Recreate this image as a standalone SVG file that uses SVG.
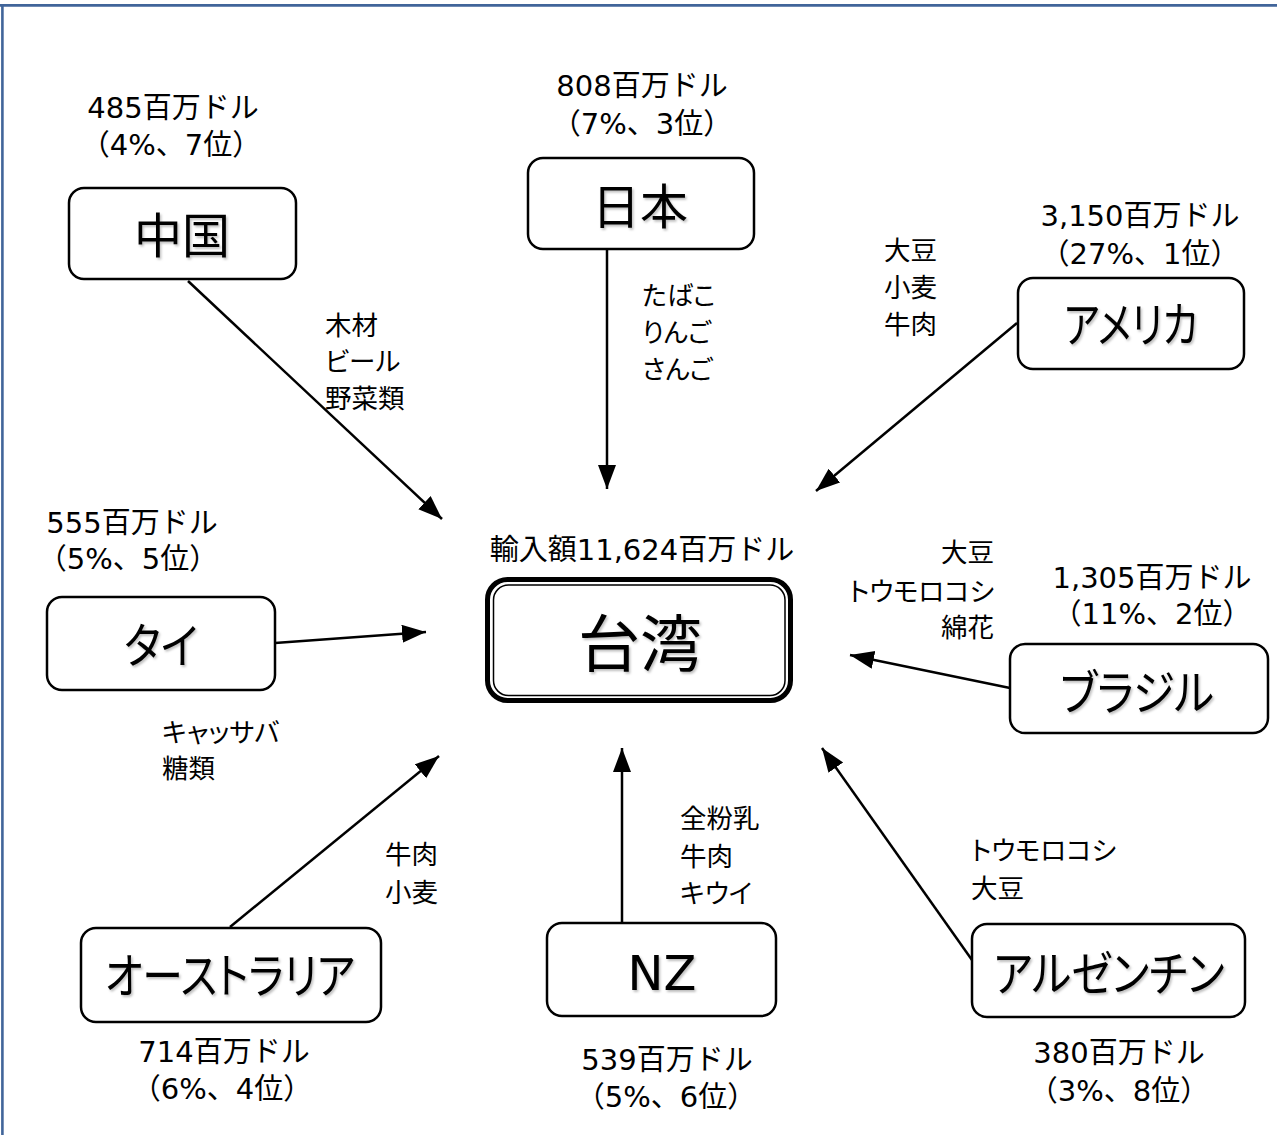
<svg xmlns="http://www.w3.org/2000/svg" width="1277" height="1135" viewBox="0 0 1277 1135">
<style>
.box{fill:#fff;stroke:#000;stroke-width:2.5}
.name{font-family:"Noto Sans CJK JP","DejaVu Sans",sans-serif;font-size:48px;fill:#000;text-anchor:middle;font-feature-settings:"palt";filter:url(#sh)}
.nz{font-family:"DejaVu Sans","Noto Sans CJK JP",sans-serif}
.qty{font-family:"DejaVu Sans","Noto Sans CJK JP",sans-serif;font-size:29px;fill:#000;text-anchor:middle}
.com{font-family:"Noto Sans CJK JP",sans-serif;font-size:26.5px;fill:#000;font-feature-settings:"palt"}
.edge{stroke:#000;stroke-width:2.5;fill:none;marker-end:url(#ah)}
</style>
<defs>
<marker id="ah" markerUnits="userSpaceOnUse" markerWidth="26" markerHeight="20" refX="24" refY="9" orient="auto">
<path d="M0,0 L24,9 L0,18 z" fill="#000"/>
</marker>
<filter id="sh" x="-10%" y="-10%" width="130%" height="140%">
<feDropShadow dx="1.5" dy="2" stdDeviation="1.2" flood-color="#000" flood-opacity="0.25"/>
</filter>
</defs>
<rect x="0" y="0" width="1277" height="1135" fill="#fff"/>
<line x1="0" y1="5.4" x2="1277" y2="5.4" stroke="#41659a" stroke-width="2.6"/>
<line x1="2.4" y1="4" x2="2.4" y2="1135" stroke="#41659a" stroke-width="2.6"/>

<g id="connectors">
<line class="edge" x1="188" y1="281" x2="442" y2="519"/>
<line class="edge" x1="607" y1="250" x2="607" y2="489"/>
<line class="edge" x1="1017" y1="323" x2="816" y2="491"/>
<line class="edge" x1="275" y1="643" x2="426" y2="632"/>
<line class="edge" x1="1010" y1="688" x2="850" y2="655"/>
<line class="edge" x1="230" y1="927" x2="439" y2="756"/>
<line class="edge" x1="622" y1="923" x2="622" y2="748"/>
<line class="edge" x1="972" y1="960" x2="822" y2="748"/>
</g>

<g id="taiwan">
<text class="qty" x="642" y="560">輸入額11,624百万ドル</text>
<rect x="487.5" y="579.5" width="303" height="121" rx="20" fill="#fff" stroke="#000" stroke-width="5"/>
<rect x="493.5" y="585" width="291.5" height="110.5" rx="15" fill="none" stroke="#000" stroke-width="1.5"/>
<text class="name" x="640" y="667" style="font-size:62px">台湾</text>
</g>

<g id="china">
<text class="qty" x="173" y="118">485百万ドル</text>
<text class="qty" x="171" y="155">（4%、7位）</text>
<rect class="box" x="69" y="188" width="227" height="91" rx="15"/>
<text class="name" x="182" y="253">中国</text>
<text class="com" x="325" y="335">木材</text>
<text class="com" x="325" y="371">ビール</text>
<text class="com" x="325" y="408">野菜類</text>
</g>

<g id="japan">
<text class="qty" x="642" y="96">808百万ドル</text>
<text class="qty" x="642" y="134">（7%、3位）</text>
<rect class="box" x="528" y="158" width="226" height="91" rx="15"/>
<text class="name" x="640" y="224">日本</text>
<text class="com" x="642" y="305" style="font-size:26px">たばこ</text>
<text class="com" x="642" y="342" style="font-size:26px">りんご</text>
<text class="com" x="642" y="379" style="font-size:26px">さんご</text>
</g>

<g id="usa">
<text class="qty" x="1140" y="226">3,150百万ドル</text>
<text class="qty" x="1140" y="264">（27%、1位）</text>
<rect class="box" x="1018" y="278" width="226" height="91" rx="15"/>
<text class="name" x="1131" y="342" textLength="134" lengthAdjust="spacingAndGlyphs">アメリカ</text>
<text class="com" x="884" y="260">大豆</text>
<text class="com" x="884" y="297">小麦</text>
<text class="com" x="884" y="334">牛肉</text>
</g>

<g id="brazil">
<text class="qty" x="1152" y="588">1,305百万ドル</text>
<text class="qty" x="1152" y="624">（11%、2位）</text>
<rect class="box" x="1010" y="644" width="258" height="89" rx="15"/>
<text class="name" x="1137" y="710" textLength="154" lengthAdjust="spacingAndGlyphs">ブラジル</text>
<text class="com" x="994" y="562" text-anchor="end">大豆</text>
<text class="com" x="994" y="601" text-anchor="end">トウモロコシ</text>
<text class="com" x="994" y="637" text-anchor="end">綿花</text>
</g>

<g id="thailand">
<text class="qty" x="132" y="533">555百万ドル</text>
<text class="qty" x="128" y="569">（5%、5位）</text>
<rect class="box" x="47" y="597" width="228" height="93" rx="15"/>
<text class="name" x="161" y="663" textLength="74" lengthAdjust="spacingAndGlyphs">タイ</text>
<text class="com" x="162" y="742">キャッサバ</text>
<text class="com" x="162" y="778">糖類</text>
</g>

<g id="australia">
<rect class="box" x="81" y="928" width="300" height="94" rx="15"/>
<text class="name" x="230" y="993" textLength="250" lengthAdjust="spacingAndGlyphs">オーストラリア</text>
<text class="qty" x="224" y="1062">714百万ドル</text>
<text class="qty" x="222" y="1099">（6%、4位）</text>
<text class="com" x="385" y="864">牛肉</text>
<text class="com" x="385" y="902">小麦</text>
</g>

<g id="nz">
<rect class="box" x="547" y="923" width="229" height="93" rx="15"/>
<text class="name nz" x="662" y="990">NZ</text>
<text class="qty" x="667" y="1070">539百万ドル</text>
<text class="qty" x="666" y="1107">（5%、6位）</text>
<text class="com" x="680" y="828">全粉乳</text>
<text class="com" x="680" y="866">牛肉</text>
<text class="com" x="680" y="903">キウイ</text>
</g>

<g id="argentina">
<rect class="box" x="972" y="924" width="273" height="93" rx="15"/>
<text class="name" x="1109" y="991" textLength="231" lengthAdjust="spacingAndGlyphs">アルゼンチン</text>
<text class="qty" x="1119" y="1063">380百万ドル</text>
<text class="qty" x="1119" y="1101">（3%、8位）</text>
<text class="com" x="971" y="860">トウモロコシ</text>
<text class="com" x="971" y="898">大豆</text>
</g>
</svg>
